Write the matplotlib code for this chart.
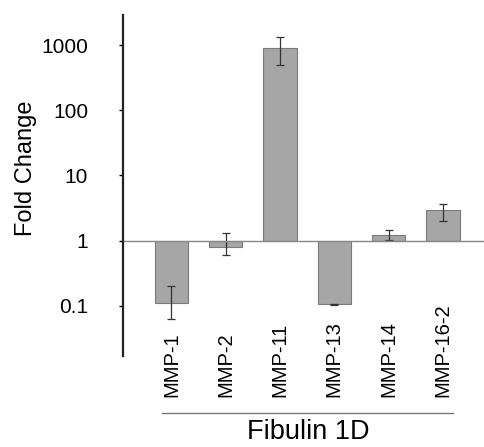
import matplotlib.pyplot as plt
import matplotlib.transforms as mtransforms
import numpy as np

plt.rcParams['font.family'] = ['Liberation Sans', 'DejaVu Sans']

genes = ['MMP-1', 'MMP-2', 'MMP-11', 'MMP-13', 'MMP-14', 'MMP-16-2']
fold = [0.111, 0.81, 890, 0.105, 1.24, 2.9]
err_low = [0.063, 0.61, 490, 0.104, 1.02, 2.03]
err_high = [0.2, 1.3, 1310, 0.106, 1.46, 3.6]
yticks = [0.1, 1, 10, 100, 1000]
ytick_labels = ['0.1', '1', '10', '100', '1000']

fold = np.array(fold)
yerr = [fold - np.array(err_low), np.array(err_high) - fold]
x = np.arange(len(genes))

fig = plt.figure(figsize=(4.84, 4.47), dpi=100)
ax = fig.add_axes([0.254, 0.2036, 0.746, 0.763])

# bars grow from 1 up or down
ax.bar(x, fold - 1, bottom=1, width=0.61, color='#a6a6a6',
       edgecolor='#7a7a7a', linewidth=0.8)
ax.errorbar(x, fold, yerr=yerr, fmt='none', ecolor='#333333',
            elinewidth=0.9, capsize=3, capthick=0.9)
ax.axhline(1, color='#888888', linewidth=1.0)

ax.set_yscale('log')
ax.set_ylim(0.017, 2900)
ax.set_xlim(-0.893, 5.755)
ax.set_yticks(yticks)
ax.set_yticklabels(ytick_labels, fontsize=15)
ax.yaxis.set_minor_locator(plt.NullLocator())
ax.tick_params(axis='y', length=3, width=1, pad=22)
ax.set_xticks([])

for side in ['top', 'right', 'bottom']:
    ax.spines[side].set_visible(False)
ax.spines['left'].set_linewidth(1.6)
ax.spines['left'].set_color('#222222')

ax.set_ylabel('Fold Change', fontsize=17)
ax.yaxis.set_label_coords(-0.238, 0.551)

# gene names, rotated, sitting below the axis area
trans = mtransforms.blended_transform_factory(ax.transData, fig.transFigure)
for xi, name in zip(x, genes):
    ax.text(xi, (447 - 397) / 447, name, transform=trans, rotation=90,
            ha='center', va='bottom', fontsize=14.5, clip_on=False)

ax.plot([-0.175, 5.18], [(447 - 413) / 447] * 2, transform=trans,
        color='#777777', linewidth=1.0, clip_on=False)
fig.text(308 / 484, 2 / 447, 'Fibulin 1D', ha='center',
         va='bottom', fontsize=19.5)

fig.savefig('out.png', dpi=100)
